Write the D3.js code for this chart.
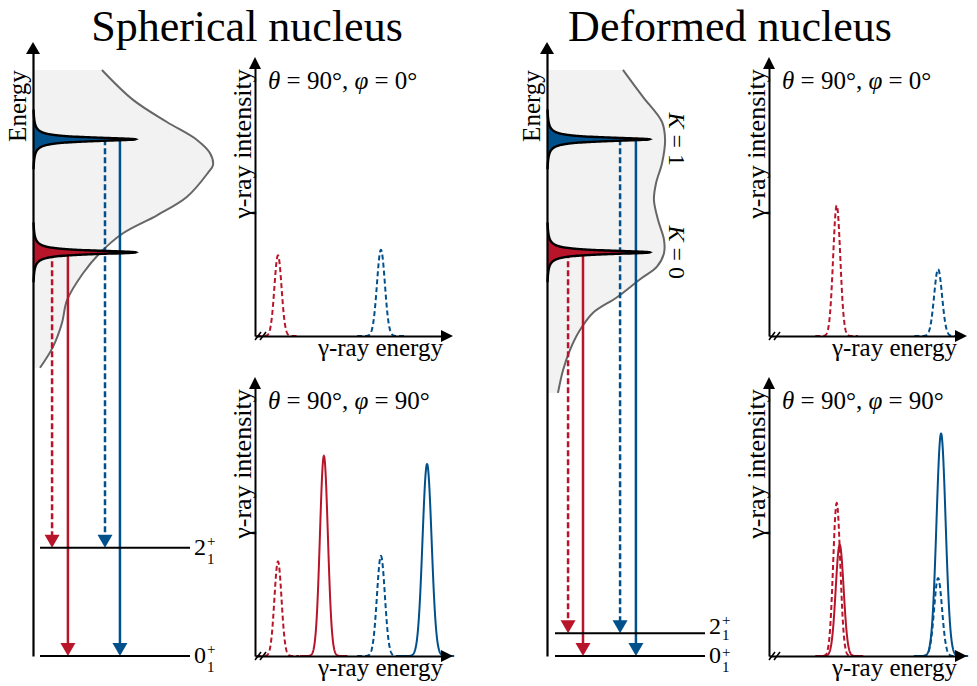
<!DOCTYPE html>
<html>
<head>
<meta charset="utf-8" />
<style>
  body { margin: 0; background: #fff; }
  svg text { font-family: "Liberation Serif", "DejaVu Serif", serif; fill: #000; }
</style>
</head>
<body>
<script src="https://cdn.jsdelivr.net/npm/d3@7"></script>
<script>
const width = 977, height = 686;

const panelTitles = ['Spherical nucleus', 'Deformed nucleus'];

// level scheme (energy in arbitrary units)
const resonanceEnergies = [6.75, 8.64];   // K = 0 (red), K = 1 (blue)
const resonanceStrength = 0.57;
const resonanceWidth = 0.037;
const lowLevelsSpherical = [0, 1.81];     // 0+_1, 2+_1
const lowLevelsDeformed = [0, 0.38];
const levelLabels = ['0', '2'];
const kLabels = ['K', 'K'];
const kValues = ['0', '1'];

// background strength distribution: [strength, energy]
const densitySpherical = [
  [0.383, 9.80], [0.556, 9.30], [0.744, 8.93], [0.911, 8.63], [0.983, 8.41],
  [1.000, 8.21], [0.972, 8.08], [0.856, 7.68], [0.689, 7.37], [0.500, 7.07],
  [0.372, 6.74], [0.278, 6.40], [0.189, 5.95], [0.161, 5.57], [0.111, 5.17],
  [0.039, 4.82]
];
const densityDeformed = [
  [0.422, 9.80], [0.533, 9.35], [0.639, 8.93], [0.656, 8.63], [0.639, 8.24],
  [0.606, 7.91], [0.594, 7.63], [0.617, 7.29], [0.650, 6.96], [0.650, 6.74],
  [0.611, 6.51], [0.517, 6.30], [0.389, 6.00], [0.256, 5.74], [0.183, 5.45],
  [0.128, 5.12], [0.089, 4.78], [0.061, 4.40]
];

// transitions: K0 -> 2+, K0 -> 0+, K1 -> 2+, K1 -> 0+
const transFrom = [0, 0, 1, 1];
const transTo = [1, 0, 1, 0];
const transSlotSpherical = [0.106, 0.194, 0.400, 0.483];
const transSlotDeformed = [0.117, 0.200, 0.406, 0.494];

// spectra
const peakEnergySpherical = [11.6, 34.8, 63.6, 86.9];
const peakEnergyDeformed = [34.2, 35.7, 85.4, 86.9];
const peakSigma = [1.8, 2.0, 2.0, 2.3];
const intensitySphericalPhi0 = [0.29, 0, 0.31, 0];
const intensitySphericalPhi90 = [0.34, 0.72, 0.36, 0.69];
const intensityDeformedPhi0 = [0.47, 0, 0.24, 0];
const intensityDeformedPhi90 = [0.55, 0.40, 0.28, 0.80];
const phiAngles = ['0°', '90°'];

const red = '#b8152a', blue = '#00508c';
const kColor = k => k === 0 ? red : blue;

// label offsets [main, sup, sub] relative to each level line, per level (0+, 2+)
const labelOffsetsWide = [[7, -2, 16], [7, -2, 16]];
const labelOffsetsTight = [[7, 1, 16], [1, -8, 7]];

const panels = [
  { title: panelTitles[0], ax: 33, titleX: 247, levels: lowLevelsSpherical, density: densitySpherical,
    slots: transSlotSpherical, lineX: [40, 190], sx: 255, offsets: labelOffsetsWide,
    energies: peakEnergySpherical, spectra: [intensitySphericalPhi0, intensitySphericalPhi90], kText: false },
  { title: panelTitles[1], ax: 547, titleX: 730, levels: lowLevelsDeformed, density: densityDeformed,
    slots: transSlotDeformed, lineX: [555, 705], sx: 769, offsets: labelOffsetsTight,
    energies: peakEnergyDeformed, spectra: [intensityDeformedPhi0, intensityDeformedPhi90], kText: true }
];

const svg = d3.select('body').append('svg')
  .attr('width', width)
  .attr('height', height);

const yE = d3.scaleLinear().domain([0, 10]).range([656, 58]);

function arrowHead(g, x, y, dir, w, h, color) {
  let pts;
  if (dir === 'up') pts = [[x, y], [x - w / 2, y + h], [x + w / 2, y + h]];
  else if (dir === 'down') pts = [[x, y], [x - w / 2, y - h], [x + w / 2, y - h]];
  else pts = [[x, y], [x - h, y - w / 2], [x - h, y + w / 2]];
  g.append('path').attr('d', 'M' + pts.join('L') + 'Z').attr('fill', color);
}

panels.forEach(p => {
  const g = svg.append('g');
  const xS = d3.scaleLinear().domain([0, 1]).range([p.ax, p.ax + 180]);

  g.append('text')
    .attr('x', p.titleX).attr('y', 41)
    .attr('text-anchor', 'middle')
    .attr('font-size', 44)
    .text(p.title);

  // background strength
  const area = d3.area()
    .y(d => yE(d[1]))
    .x0(xS(0))
    .x1(d => xS(d[0]))
    .curve(d3.curveCatmullRom);
  g.append('path').datum(p.density).attr('d', area).attr('fill', '#f2f2f2');
  g.append('path').datum(p.density)
    .attr('d', d3.line().x(d => xS(d[0])).y(d => yE(d[1])).curve(d3.curveCatmullRom))
    .attr('fill', 'none').attr('stroke', '#666').attr('stroke-width', 2);

  // transitions
  transFrom.forEach((k, i) => {
    const x = xS(p.slots[i]);
    const y0 = yE(resonanceEnergies[k]);
    const y1 = yE(p.levels[transTo[i]]);
    g.append('line')
      .attr('x1', x).attr('x2', x)
      .attr('y1', y0).attr('y2', y1 - 10)
      .attr('stroke', kColor(k)).attr('stroke-width', 2.5)
      .attr('stroke-dasharray', transTo[i] === 1 ? '6,3' : null);
    arrowHead(g, x, y1, 'down', 15, 13, kColor(k));
  });

  // resonances
  resonanceEnergies.forEach((c, k) => {
    const pts = d3.range(c - 0.5, c + 0.5, 0.002).map(e => [e, resonanceStrength / (1 + ((e - c) / resonanceWidth) ** 2)]);
    g.append('path').datum(pts)
      .attr('d', d3.area().y(d => yE(d[0])).x0(xS(0)).x1(d => xS(d[1])))
      .attr('fill', kColor(k));
    g.append('path').datum(pts)
      .attr('d', d3.line().y(d => yE(d[0])).x(d => xS(d[1])))
      .attr('fill', 'none').attr('stroke', '#000').attr('stroke-width', 2.4);
    if (p.kText) {
      const t = g.append('text')
        .attr('transform', `translate(${p.ax + 122},${yE(c)}) rotate(90)`)
        .attr('text-anchor', 'middle')
        .attr('font-size', 24);
      t.append('tspan').attr('font-style', 'italic').text(kLabels[k]);
      t.append('tspan').text(' = ' + kValues[k]);
    }
  });

  // energy axis
  g.append('g')
    .attr('transform', `translate(${p.ax},0)`)
    .call(d3.axisLeft(d3.scaleLinear().domain([0, 10]).range([656, 52])).ticks(0).tickSizeOuter(0))
    .call(a => a.select('.domain').attr('stroke', '#000').attr('stroke-width', 2.2));
  arrowHead(g, p.ax, 42, 'up', 14, 12, '#000');
  g.append('text')
    .attr('transform', `translate(${p.ax - 7},106) rotate(-90)`)
    .attr('text-anchor', 'middle')
    .attr('font-size', 25)
    .text('Energy');

  // low-lying levels
  p.levels.forEach((e, i) => {
    const y = yE(e);
    const off = p.offsets[i];
    g.append('line')
      .attr('x1', p.lineX[0]).attr('x2', p.lineX[1])
      .attr('y1', y).attr('y2', y)
      .attr('stroke', '#000').attr('stroke-width', 2);
    const tx = p.lineX[1] + 4;
    g.append('text').attr('x', tx).attr('y', y + off[0]).attr('font-size', 24).text(levelLabels[i]);
    g.append('text').attr('x', tx + 13).attr('y', y + off[1]).attr('font-size', 15).text('+');
    g.append('text').attr('x', tx + 13).attr('y', y + off[2]).attr('font-size', 15).text('1');
  });

  // spectra
  p.spectra.forEach((intens, s) => {
    const base = s === 0 ? 336 : 656;
    const top = s === 0 ? 58 : 378;
    const xSp = d3.scaleLinear().domain([0, 100]).range([p.sx, p.sx + 198]);
    const ySp = d3.scaleLinear().domain([0, 1]).range([base, top]);
    const sg = g.append('g');

    intens.forEach((h, i) => {
      if (h <= 0) return;
      const c = p.energies[i], sd = peakSigma[i];
      const pts = d3.range(c - 6 * sd, c + 6 * sd, 0.1).map(e => [e, h * Math.exp(-0.5 * ((e - c) / sd) ** 2)]);
      sg.append('path').datum(pts)
        .attr('d', d3.line().x(d => xSp(d[0])).y(d => ySp(d[1])))
        .attr('fill', 'none')
        .attr('stroke', kColor(transFrom[i]))
        .attr('stroke-width', 2)
        .attr('stroke-dasharray', transTo[i] === 1 ? '5,3' : null);
    });

    sg.append('g').attr('transform', `translate(${p.sx},0)`)
      .call(d3.axisLeft(ySp.copy().range([base, top + 8])).ticks(0).tickSizeOuter(0))
      .call(a => a.select('.domain').attr('stroke', '#000').attr('stroke-width', 2));
    sg.append('g').attr('transform', `translate(0,${base})`)
      .call(d3.axisBottom(xSp.copy().range([p.sx, p.sx + 190])).ticks(0).tickSizeOuter(0))
      .call(a => a.select('.domain').attr('stroke', '#000').attr('stroke-width', 2));
    arrowHead(sg, p.sx, top - 1, 'up', 12, 12, '#000');
    arrowHead(sg, p.sx + 198, base, 'right', 12, 12, '#000');

    // axis break
    [3, 8].forEach(dx => {
      sg.append('line')
        .attr('x1', p.sx + dx - 3).attr('y1', base + 4)
        .attr('x2', p.sx + dx + 3).attr('y2', base - 4)
        .attr('stroke', '#000').attr('stroke-width', 1.5);
    });

    const lab = sg.append('text').attr('x', p.sx + 13).attr('y', top + 31).attr('font-size', 25);
    lab.append('tspan').attr('font-style', 'italic').text('θ');
    lab.append('tspan').text(' = 90°, ');
    lab.append('tspan').attr('font-style', 'italic').text('φ');
    lab.append('tspan').text(' = ' + phiAngles[s]);

    sg.append('text')
      .attr('transform', `translate(${p.sx - 4},${top + 86}) rotate(-90)`)
      .attr('text-anchor', 'middle')
      .attr('font-size', 26)
      .text('γ-ray intensity');
    sg.append('text')
      .attr('x', p.sx + 188).attr('y', base + 20)
      .attr('text-anchor', 'end')
      .attr('font-size', 25)
      .text('γ-ray energy');
  });
});
</script>
</body>
</html>
